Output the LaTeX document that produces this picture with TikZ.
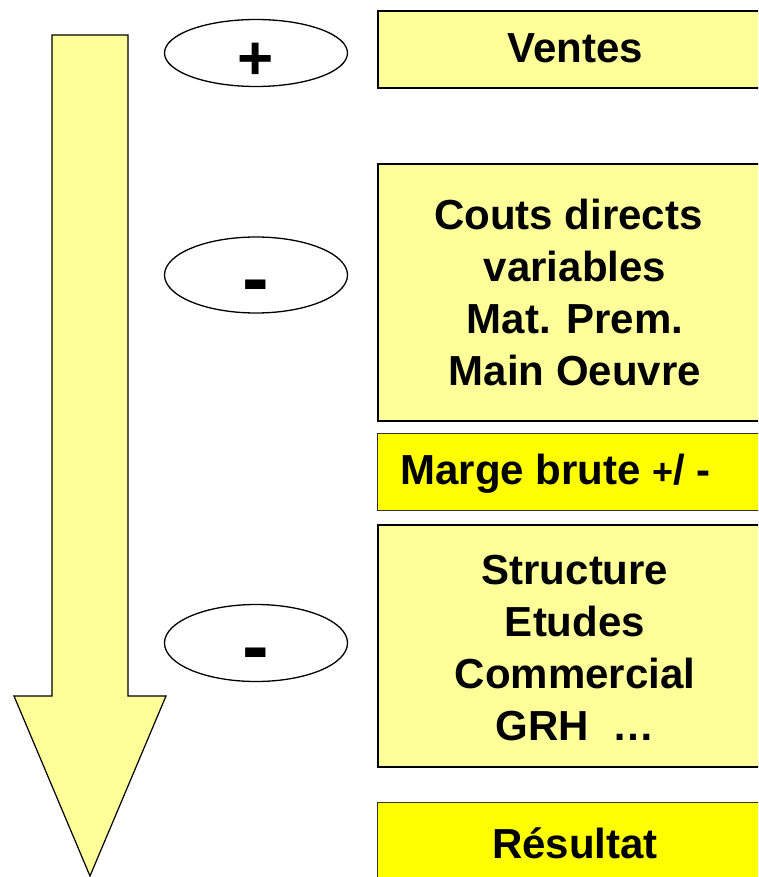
\documentclass[tikz,border=0pt]{standalone}
\usepackage{fontspec}
\setmainfont{Liberation Sans}
\usetikzlibrary{shapes.geometric}
\definecolor{paleyel}{HTML}{FFFF99}
\definecolor{brightyel}{HTML}{FFFF00}
\tikzset{
  lightbox/.style={draw=black, line width=1.8pt, fill=paleyel, anchor=north west,
    minimum width=400pt, inner sep=0pt},
  brightbox/.style={draw=black!80, line width=1pt, fill=brightyel, anchor=north west,
    minimum width=400pt, inner sep=0pt},
  boxtext/.style={font=\bfseries\fontsize{42}{52}\selectfont, align=center},
  signov/.style={draw=black, line width=1.3pt, ellipse, fill=white, minimum width=183pt, inner sep=0pt},
  signtxt/.style={font=\bfseries\fontsize{62}{62}\selectfont, inner sep=0pt},
  minustxt/.style={font=\bfseries\fontsize{80}{80}\selectfont, inner sep=0pt},
}
\begin{document}
\begin{tikzpicture}[x=1pt,y=-1pt]
\useasboundingbox (0,0) rectangle (758,877);
\clip (0,0) rectangle (758,877);
% arrow
\draw[line width=1.2pt, fill=paleyel, line join=miter]
  (52,35) -- (128,35) -- (128,696) -- (166,696) -- (90,876) -- (14,696) -- (52,696) -- cycle;
% ellipses
\node[signov, minimum height=67pt] (e1) at (256,53) {};
\node[signtxt] (p1) at (256,61) {+};
\node[signov, minimum height=76pt] (e2) at (256,275) {};
\node[minustxt] (m2) at (256,293) {-};
\node[signov, minimum height=77pt] (e3) at (256,643) {};
\node[minustxt] (m3) at (256,661) {-};
% boxes
\node[lightbox, minimum height=77pt] (ventes) at (377,10) {};
\node[boxtext] (tventes) at (575,48) {Ventes};
\node[lightbox, minimum height=257pt] (couts) at (377,163) {};
\node[boxtext] (tcouts) at (575,292) {Couts directs\hspace*{13pt} \\ variables\\ Mat. Prem.\\ Main Oeuvre};
\node[brightbox, minimum height=77pt] (marge) at (377,433) {};
\node[boxtext, anchor=west] (tmarge) at (397,474) {Marge brute {\fontsize{36}{36}\selectfont+}/ -};
\node[lightbox, minimum height=242pt] (struct) at (377,524) {};
\node[boxtext] (tstruct) at (575,648) {Structure\\ Etudes\\ Commercial\\ GRH\ \ …};
\node[brightbox, minimum height=100pt] (resultat) at (377,802) {};
\node[boxtext] (tres) at (575,843) {Résultat};
\end{tikzpicture}
\end{document}
